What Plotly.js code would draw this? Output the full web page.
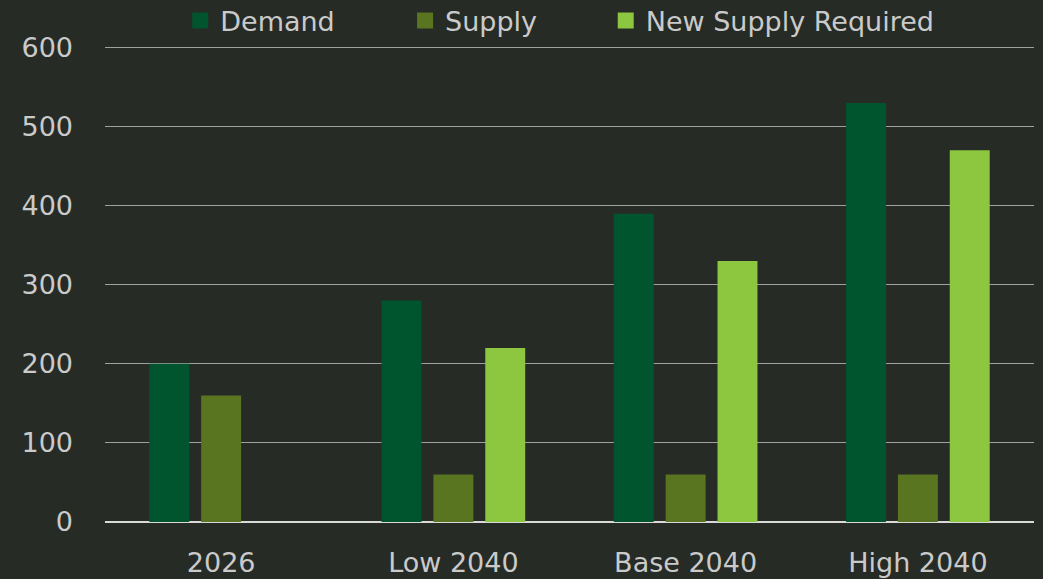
<!DOCTYPE html>
<html>
<head>
<meta charset="utf-8">
<script src="https://cdn.plot.ly/plotly-3.0.1.min.js"></script>
<style>
html,body{margin:0;padding:0;background:#262b26;}
#chart{width:1043px;height:579px;}
</style>
</head>
<body>
<div id="chart"></div>
<script>
const categories = ["2026", "Low 2040", "Base 2040", "High 2040"];
const demand = [200, 280, 390, 530];
const supply = [160, 60, 60, 60];
const newSupplyRequired = [null, 220, 330, 470];
const seriesNames = ["Demand", "Supply", "New Supply Required"];
const seriesColors = ["#00552e", "#5a7520", "#8dc63f"];

const FONT = "'DejaVu Sans', sans-serif";
const TXT = "#cacaca";

const values = [demand, supply, newSupplyRequired];
const legendIds = ["legend", "legend2", "legend3"];
const traces = [];
values.forEach((v, i) => {
  traces.push({
    type: "bar",
    name: seriesNames[i],
    x: categories,
    y: v,
    marker: {color: seriesColors[i]},
    showlegend: false,
    legendgroup: "g" + i
  });
});
values.forEach((v, i) => {
  traces.push({
    type: "scatter",
    mode: "markers",
    name: seriesNames[i],
    x: [categories[0]],
    y: [null],
    marker: {color: seriesColors[i], symbol: "square", size: 19},
    showlegend: true,
    legend: legendIds[i],
    legendgroup: "g" + i,
    hoverinfo: "skip"
  });
});

function legendAt(xPaper) {
  return {
    orientation: "h",
    x: xPaper, xanchor: "left",
    y: 1.0525, yanchor: "middle",
    font: {family: FONT, color: TXT, size: 27},
    bgcolor: "rgba(0,0,0,0)",
    borderwidth: 0,
    itemwidth: 30,
    itemsizing: "trace"
  };
}

const layout = {
  width: 1043,
  height: 579,
  paper_bgcolor: "#262b26",
  plot_bgcolor: "rgba(0,0,0,0)",
  margin: {l: 105, r: 9, t: 46, b: 57, autoexpand: false},
  barmode: "group",
  bargap: 0.33,
  bargroupgap: 0.23,
  font: {family: FONT, color: TXT, size: 27},
  showlegend: true,
  legend: legendAt(0.081),
  legend2: legendAt(0.323),
  legend3: legendAt(0.539),
  xaxis: {
    type: "category",
    showgrid: false,
    showline: false,
    ticks: "",
    tickfont: {family: FONT, color: TXT, size: 27},
    ticklabelstandoff: 22
  },
  yaxis: {
    range: [0, 602],
    tickvals: [0, 100, 200, 300, 400, 500, 600],
    showgrid: true,
    gridcolor: "#a0a0a0",
    gridwidth: 1,
    zeroline: true,
    zerolinecolor: "#d9d9d9",
    zerolinewidth: 2,
    showline: false,
    ticks: "",
    tickfont: {family: FONT, color: TXT, size: 27},
    ticklabelstandoff: 31
  }
};

Plotly.newPlot("chart", traces, layout, {displayModeBar: false, staticPlot: true});
</script>
</body>
</html>
